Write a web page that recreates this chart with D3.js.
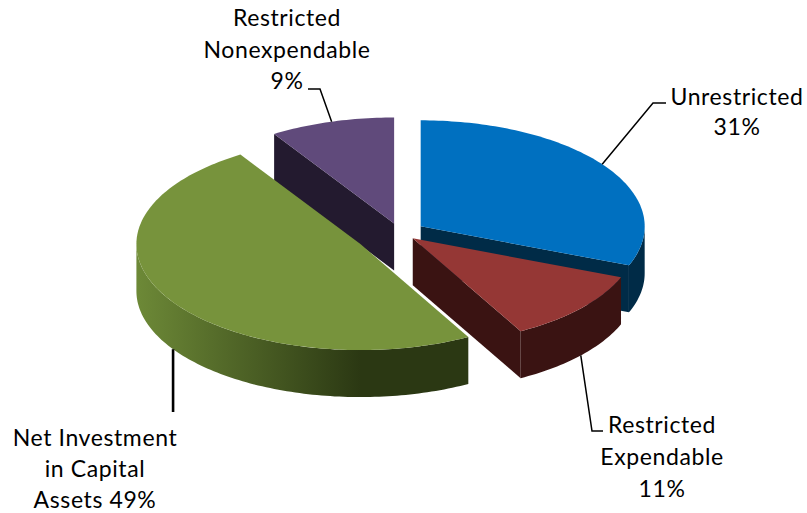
<!DOCTYPE html>
<html>
<head>
<meta charset="utf-8">
<script src="https://cdn.jsdelivr.net/npm/d3@7"></script>
<style>
  body { margin: 0; background: #fff; }
  svg { display: block; }
  .lbl { font-family: Lato, "Open Sans", sans-serif; font-size: 23px; fill: #000; letter-spacing: 0.6px; }
</style>
</head>
<body>
<svg id="chart" width="807" height="513"></svg>
<script>
// Net position by component (percent of total)
const categories = ["Unrestricted", "Restricted Expendable", "Net Investment in Capital Assets", "Restricted Nonexpendable"];
const shares = [31, 11, 49, 9];
// Label lines; "{p}" is replaced by the share
const labelLines = [
  ["Unrestricted", "{p}"],
  ["Restricted", "Expendable", "{p}"],
  ["Net Investment", "in Capital", "Assets {p}"],
  ["Restricted", "Nonexpendable", "{p}"]
];

// ---- styling / layout ----
const topColors  = ["#0070C0", "#953735", "#77933C", "#604A7B"];
const sideLight  = ["#00355A", "#461819", "#6D8937", "#2A2037"];
const sideDark   = ["#002B47", "#3A1312", "#2B3813", "#231A2F"];
const explodeBy  = [25, 17, 46, 21];          // px each slice is pulled out
const cx = 400, cy = 233, rx = 224, ry = 106, depth = 47;

// label placement: text centre, first baseline, line step, where the leader
// leaves the slice (fraction of its sweep), elbow points of the leader
const labelLayout = [
  { x: 737, y: 105, dy: 30,   from: "top",    at: 0.485, elbow: [[653, 103], [666, 103]], w: 1.5 },
  { x: 662, y: 433, dy: 32,   from: "bottom", at: 0.5,   elbow: [[592, 431], [603, 431]], w: 1.5 },
  { x: 95,  y: 446, dy: 31,   from: "bottom", at: 0.485, elbow: "down",                   w: 2.6 },
  { x: 287, y: 26,  dy: 31.5, from: "top",    at: 0.5,   elbow: [[320, 89], [308, 89]],   w: 1.5 }
];

const svg = d3.select("#chart");
const defs = svg.append("defs");

const pie = d3.pie().sort(null).value(d => d).startAngle(0).endAngle(2 * Math.PI);
const arcs = pie(shares).map((a, i) => {
  const mid = (a.startAngle + a.endAngle) / 2;
  const e = explodeBy[i];
  return {
    i, s: a.startAngle, e: a.endAngle, mid,
    ax: cx + e * Math.sin(mid),
    ay: cy - e * Math.cos(mid) * ry / rx
  };
});

const rim = (a, t, down = 0) => [a.ax + rx * Math.sin(t), a.ay - ry * Math.cos(t) + down];
const sample = (t0, t1) => {
  const n = Math.max(2, Math.ceil(Math.abs(t1 - t0) / 0.02));
  return d3.range(n + 1).map(k => t0 + (t1 - t0) * k / n);
};
const line = d3.line();

// back-to-front drawing order
const order = arcs.slice().sort((p, q) => Math.cos(q.mid) - Math.cos(p.mid));

order.forEach(a => {
  const g = svg.append("g");
  const i = a.i;
  const apexTop = [a.ax, a.ay], apexBot = [a.ax, a.ay + depth];

  // gradient for the curved side
  const gid = "side" + i;
  const grad = defs.append("linearGradient").attr("id", gid)
    .attr("gradientUnits", "userSpaceOnUse")
    .attr("x1", a.ax - rx).attr("x2", a.ax + rx * Math.sin(Math.min(a.e, Math.PI)))
    .attr("y1", 0).attr("y2", 0);
  grad.append("stop").attr("offset", 0).attr("stop-color", sideLight[i]);
  grad.append("stop").attr("offset", 1).attr("stop-color", sideDark[i]);

  // start cut face (visible when facing the viewer)
  if (Math.sin(a.s) < -1e-6) {
    g.append("path")
      .attr("d", line([apexTop, rim(a, a.s), rim(a, a.s, depth), apexBot]) + "Z")
      .attr("fill", sideDark[i]);
  }
  // end cut face
  if (Math.sin(a.e) > 1e-6) {
    g.append("path")
      .attr("d", line([apexTop, rim(a, a.e), rim(a, a.e, depth), apexBot]) + "Z")
      .attr("fill", sideDark[i]);
  }
  // front part of the curved rim
  const r0 = Math.max(a.s, Math.PI / 2), r1 = Math.min(a.e, 3 * Math.PI / 2);
  if (r1 > r0) {
    const ts = sample(r0, r1);
    const pts = ts.map(t => rim(a, t)).concat(ts.slice().reverse().map(t => rim(a, t, depth)));
    g.append("path").attr("d", line(pts) + "Z").attr("fill", `url(#${gid})`);
  }
  // top surface
  const topPts = [apexTop].concat(sample(a.s, a.e).map(t => rim(a, t)));
  g.append("path").attr("d", line(topPts) + "Z").attr("fill", topColors[i]);
});

// leader lines and labels
arcs.forEach(a => {
  const L = labelLayout[a.i];
  const start = rim(a, a.s + (a.e - a.s) * L.at, L.from === "bottom" ? depth : 0);
  const pts = L.elbow === "down" ? [start, [start[0], 412]] : [start].concat(L.elbow);
  svg.append("path").attr("d", line(pts))
    .attr("fill", "none").attr("stroke", "#000").attr("stroke-width", L.w);

  const pct = shares[a.i] + "%";
  const t = svg.append("text").attr("class", "lbl").attr("text-anchor", "middle");
  labelLines[a.i].forEach((s, k) => {
    t.append("tspan").attr("x", L.x).attr("y", L.y + k * L.dy).text(s.replace("{p}", pct));
  });
});
</script>
</body>
</html>
